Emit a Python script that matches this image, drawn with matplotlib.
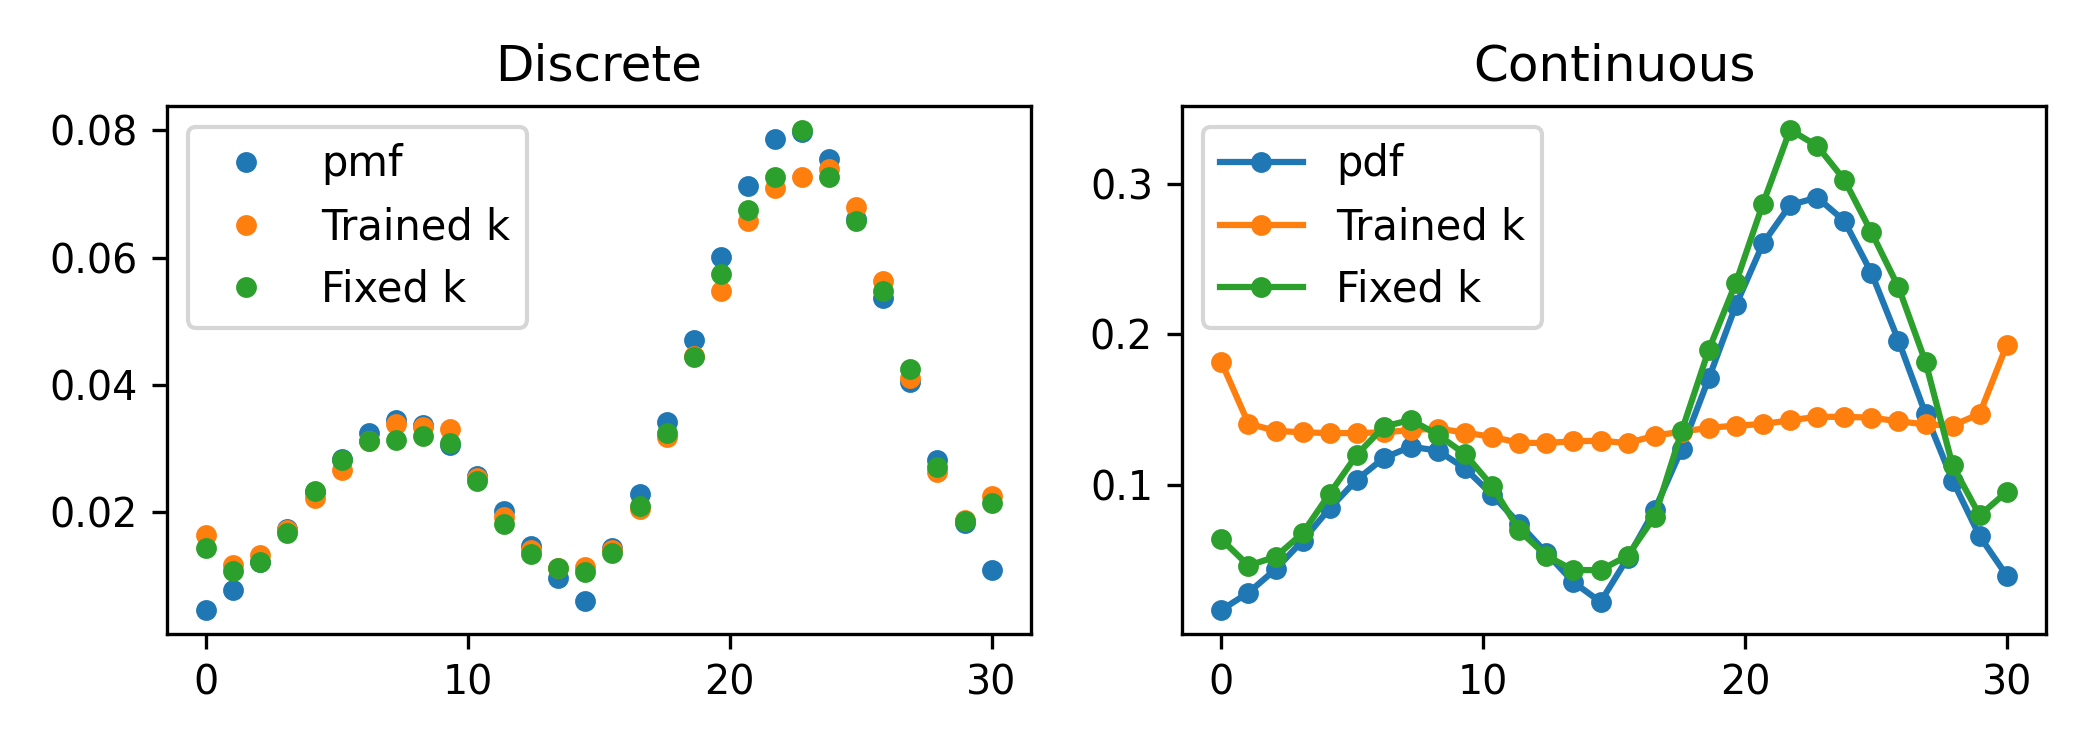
import matplotlib
matplotlib.use("Agg")
import matplotlib.pyplot as plt
from matplotlib.ticker import MultipleLocator
import numpy as np

plt.rcParams['font.size'] = 10
plt.rcParams['xtick.labelsize'] = 9.5
plt.rcParams['ytick.labelsize'] = 9.5

x = np.linspace(0, 30, 30)

# discrete panel values
pmf = [0.0046, 0.0078, 0.0122, 0.0173, 0.0231, 0.0283, 0.0324, 0.0344, 0.0337, 0.0305,
       0.0257, 0.0202, 0.0146, 0.0097, 0.0060, 0.0143, 0.0229, 0.0341, 0.0470, 0.0601,
       0.0713, 0.0786, 0.0798, 0.0755, 0.0660, 0.0536, 0.0404, 0.0282, 0.0183, 0.0109]
trained_d = [0.0164, 0.0117, 0.0132, 0.0171, 0.0222, 0.0266, 0.0312, 0.0338, 0.0333, 0.0331,
             0.0254, 0.0192, 0.0141, 0.0112, 0.0113, 0.0141, 0.0205, 0.0318, 0.0446, 0.0548,
             0.0658, 0.0709, 0.0727, 0.0739, 0.0679, 0.0563, 0.0411, 0.0263, 0.0187, 0.0225]
fixed_d = [0.0144, 0.0107, 0.0121, 0.0167, 0.0233, 0.0282, 0.0311, 0.0314, 0.0320, 0.0309,
           0.0249, 0.0181, 0.0134, 0.0112, 0.0105, 0.0136, 0.0210, 0.0325, 0.0444, 0.0575,
           0.0675, 0.0727, 0.0801, 0.0727, 0.0657, 0.0548, 0.0425, 0.0271, 0.0186, 0.0214]

# continuous panel values
pdf = [0.017, 0.0285, 0.044, 0.063, 0.0845, 0.1035, 0.118, 0.1255, 0.1228, 0.111,
       0.0935, 0.0743, 0.0548, 0.0355, 0.0223, 0.0515, 0.0835, 0.124, 0.171, 0.2195,
       0.2605, 0.286, 0.291, 0.2755, 0.241, 0.196, 0.1473, 0.103, 0.066, 0.0398]
trained_c = [0.1817, 0.1408, 0.136, 0.135, 0.1345, 0.1345, 0.135, 0.1365, 0.1375, 0.1348,
             0.132, 0.128, 0.128, 0.129, 0.1295, 0.1278, 0.1328, 0.1355, 0.138, 0.1395,
             0.1405, 0.143, 0.1453, 0.1453, 0.1448, 0.1423, 0.1403, 0.1395, 0.1473, 0.193]
fixed_c = [0.064, 0.0465, 0.0523, 0.068, 0.0943, 0.120, 0.1388, 0.1433, 0.1333, 0.1205,
           0.0993, 0.0698, 0.053, 0.0435, 0.0435, 0.053, 0.079, 0.136, 0.190, 0.2345,
           0.287, 0.336, 0.3253, 0.3028, 0.268, 0.2315, 0.1818, 0.113, 0.0798, 0.0955]

fig, (ax1, ax2) = plt.subplots(1, 2, figsize=(7, 2.5), dpi=300)
fig.subplots_adjust(left=0.0795, right=0.9743, bottom=0.1547, top=0.859, wspace=0.175)

ms = 4
ax1.plot(x, pmf, 'o', ms=ms, label='pmf')
ax1.plot(x, trained_d, 'o', ms=ms, label='Trained k')
ax1.plot(x, fixed_d, 'o', ms=ms, label='Fixed k')
ax1.set_title('Discrete', fontsize=12)
ax1.legend(loc='upper left')

ax2.plot(x, pdf, 'o-', ms=ms, label='pdf')
ax2.plot(x, trained_c, 'o-', ms=ms, label='Trained k')
ax2.plot(x, fixed_c, 'o-', ms=ms, label='Fixed k')
ax2.set_title('Continuous', fontsize=12)
ax2.legend(loc='upper left')

for ax in (ax1, ax2):
    ax.xaxis.set_major_locator(MultipleLocator(10))

fig.savefig('out.png', dpi=300)
